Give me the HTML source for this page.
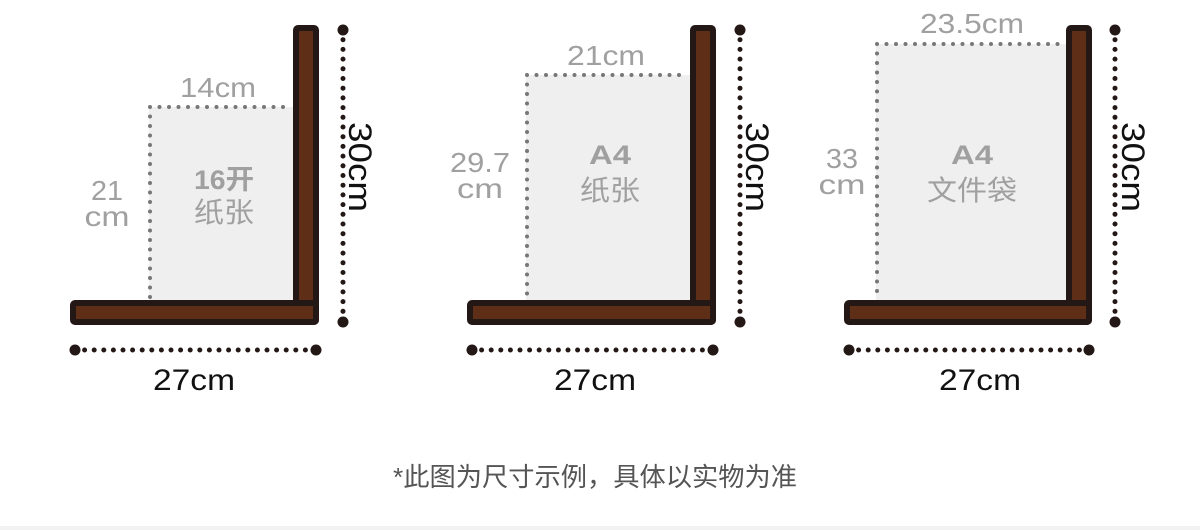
<!DOCTYPE html>
<html><head><meta charset="utf-8"><style>
html,body{margin:0;padding:0;background:#fff;width:1200px;height:530px;overflow:hidden}
text{font-family:"Liberation Sans","Noto Sans CJK SC",sans-serif}
</style></head><body>
<svg width="1200" height="530" viewBox="0 0 1200 530" xmlns="http://www.w3.org/2000/svg">
<rect x="0" y="526" width="1200" height="4" fill="#f2f2f2"/>
<g>
  <rect x="149" y="107" width="147" height="196" fill="#efefef"/>
  <path d="M150 107 L292 107 M150 107 L150 298" stroke="#777" stroke-width="4" stroke-linecap="round" stroke-dasharray="0 9.5" fill="none"/>
  <rect x="296" y="28" width="20" height="294" rx="2" fill="#5e2e17" stroke="#231815" stroke-width="6"/>
  <rect x="73" y="303" width="243" height="19" rx="2" fill="#5e2e17" stroke="#231815" stroke-width="6"/>
  <path d="M343 30 L343 322" stroke="#231815" stroke-width="5" stroke-linecap="round" stroke-dasharray="0 9.7"/>
  <circle cx="343" cy="30" r="5.5" fill="#231815"/><circle cx="343" cy="322" r="5.5" fill="#231815"/>
  <path d="M75 350 L316 350" stroke="#231815" stroke-width="5" stroke-linecap="round" stroke-dasharray="0 9.6"/>
  <circle cx="75" cy="350" r="5.5" fill="#231815"/><circle cx="316" cy="350" r="5.5" fill="#231815"/>
  <text x="218" y="97" font-size="28" fill="#a0a0a0" text-anchor="middle" textLength="76" lengthAdjust="spacingAndGlyphs">14cm</text>
  <text x="107" y="200" font-size="28" fill="#a0a0a0" text-anchor="middle" textLength="32" lengthAdjust="spacingAndGlyphs">21</text>
  <text x="107" y="226" font-size="28" fill="#a0a0a0" text-anchor="middle" textLength="45" lengthAdjust="spacingAndGlyphs">cm</text>
  <text x="224" y="189" font-size="27" font-weight="bold" fill="#a0a0a0" text-anchor="middle" textLength="60" lengthAdjust="spacingAndGlyphs">16开</text>
  <text x="224" y="222" font-size="28" fill="#a0a0a0" text-anchor="middle" textLength="60" lengthAdjust="spacingAndGlyphs">纸张</text>
  <text transform="translate(349,167) rotate(90)" font-size="32" fill="#111" text-anchor="middle" textLength="90" lengthAdjust="spacingAndGlyphs">30cm</text>
  <text x="194" y="390" font-size="30" fill="#111" text-anchor="middle" textLength="82" lengthAdjust="spacingAndGlyphs">27cm</text>
</g>
<g>
  <rect x="526" y="75" width="167" height="228" fill="#efefef"/>
  <path d="M527 75 L688 75 M527 75 L527 298" stroke="#777" stroke-width="4" stroke-linecap="round" stroke-dasharray="0 9.5" fill="none"/>
  <rect x="693" y="28" width="20" height="294" rx="2" fill="#5e2e17" stroke="#231815" stroke-width="6"/>
  <rect x="470" y="303" width="243" height="19" rx="2" fill="#5e2e17" stroke="#231815" stroke-width="6"/>
  <path d="M740 30 L740 322" stroke="#231815" stroke-width="5" stroke-linecap="round" stroke-dasharray="0 9.7"/>
  <circle cx="740" cy="30" r="5.5" fill="#231815"/><circle cx="740" cy="322" r="5.5" fill="#231815"/>
  <path d="M472 350 L713 350" stroke="#231815" stroke-width="5" stroke-linecap="round" stroke-dasharray="0 9.6"/>
  <circle cx="472" cy="350" r="5.5" fill="#231815"/><circle cx="713" cy="350" r="5.5" fill="#231815"/>
  <text x="606" y="65" font-size="28" fill="#a0a0a0" text-anchor="middle" textLength="78" lengthAdjust="spacingAndGlyphs">21cm</text>
  <text x="480" y="172" font-size="28" fill="#a0a0a0" text-anchor="middle" textLength="60" lengthAdjust="spacingAndGlyphs">29.7</text>
  <text x="480" y="198" font-size="28" fill="#a0a0a0" text-anchor="middle" textLength="46" lengthAdjust="spacingAndGlyphs">cm</text>
  <text x="610" y="164" font-size="27" font-weight="bold" fill="#a0a0a0" text-anchor="middle" textLength="42" lengthAdjust="spacingAndGlyphs">A4</text>
  <text x="610" y="200" font-size="28" fill="#a0a0a0" text-anchor="middle" textLength="60" lengthAdjust="spacingAndGlyphs">纸张</text>
  <text transform="translate(746,167) rotate(90)" font-size="32" fill="#111" text-anchor="middle" textLength="90" lengthAdjust="spacingAndGlyphs">30cm</text>
  <text x="595" y="390" font-size="30" fill="#111" text-anchor="middle" textLength="82" lengthAdjust="spacingAndGlyphs">27cm</text>
</g>
<g>
  <rect x="876" y="44" width="193" height="259" fill="#efefef"/>
  <path d="M877 44 L1064 44 M877 44 L877 298" stroke="#777" stroke-width="4" stroke-linecap="round" stroke-dasharray="0 9.5" fill="none"/>
  <rect x="1069" y="28" width="20" height="294" rx="2" fill="#5e2e17" stroke="#231815" stroke-width="6"/>
  <rect x="847" y="303" width="242" height="19" rx="2" fill="#5e2e17" stroke="#231815" stroke-width="6"/>
  <path d="M1115 30 L1115 322" stroke="#231815" stroke-width="5" stroke-linecap="round" stroke-dasharray="0 9.7"/>
  <circle cx="1115" cy="30" r="5.5" fill="#231815"/><circle cx="1115" cy="322" r="5.5" fill="#231815"/>
  <path d="M849 350 L1089 350" stroke="#231815" stroke-width="5" stroke-linecap="round" stroke-dasharray="0 9.6"/>
  <circle cx="849" cy="350" r="5.5" fill="#231815"/><circle cx="1089" cy="350" r="5.5" fill="#231815"/>
  <text x="972" y="33" font-size="28" fill="#a0a0a0" text-anchor="middle" textLength="104" lengthAdjust="spacingAndGlyphs">23.5cm</text>
  <text x="842" y="168" font-size="28" fill="#a0a0a0" text-anchor="middle" textLength="32" lengthAdjust="spacingAndGlyphs">33</text>
  <text x="842" y="194" font-size="28" fill="#a0a0a0" text-anchor="middle" textLength="47" lengthAdjust="spacingAndGlyphs">cm</text>
  <text x="972" y="164" font-size="27" font-weight="bold" fill="#a0a0a0" text-anchor="middle" textLength="42" lengthAdjust="spacingAndGlyphs">A4</text>
  <text x="972" y="200" font-size="28" fill="#a0a0a0" text-anchor="middle" textLength="90" lengthAdjust="spacingAndGlyphs">文件袋</text>
  <text transform="translate(1122,167) rotate(90)" font-size="32" fill="#111" text-anchor="middle" textLength="90" lengthAdjust="spacingAndGlyphs">30cm</text>
  <text x="980" y="390" font-size="30" fill="#111" text-anchor="middle" textLength="82" lengthAdjust="spacingAndGlyphs">27cm</text>
</g>
<text x="595" y="486" font-size="26" fill="#555" text-anchor="middle" textLength="404" lengthAdjust="spacingAndGlyphs">*此图为尺寸示例，具体以实物为准</text>
</svg>
</body></html>
